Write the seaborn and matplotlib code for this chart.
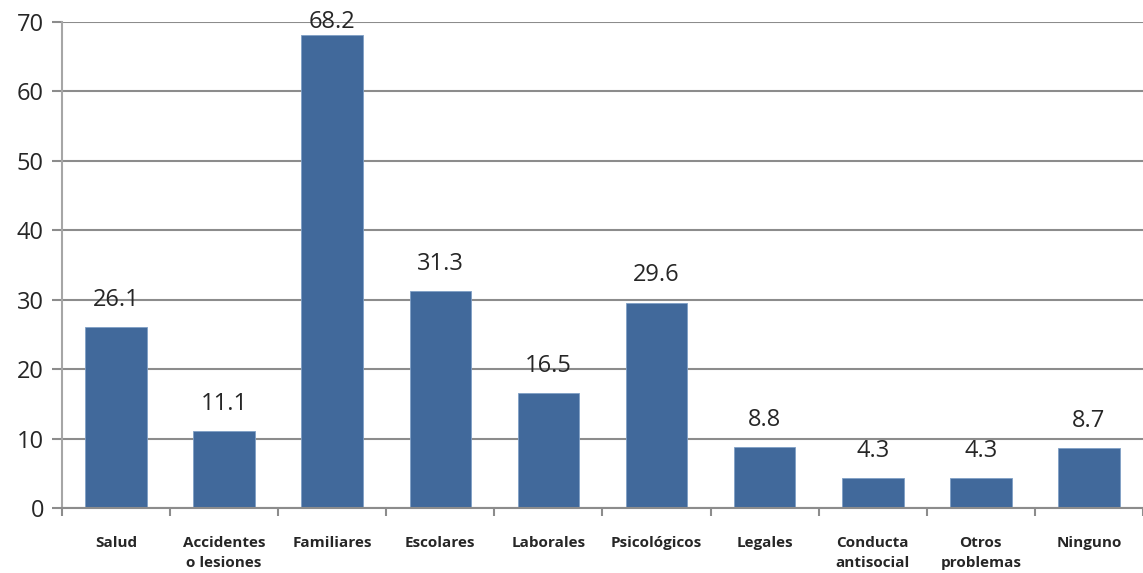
import numpy as np
import matplotlib
matplotlib.use('agg')
import matplotlib.pyplot as plt
import pandas as pd
import seaborn as sns

categories = ["Salud", "Accidentes\no lesiones", "Familiares", "Escolares",
              "Laborales", "Psicológicos", "Legales", "Conducta\nantisocial",
              "Otros\nproblemas", "Ninguno"]
values = [26.1, 11.1, 68.2, 31.3, 16.5, 29.6, 8.8, 4.3, 4.3, 8.7]
value_labels = ["26.1", "11.1", "68.2", "31.3", "16.5", "29.6", "8.8", "4.3", "4.3", "8.7"]
y_ticks = [0, 10, 20, 30, 40, 50, 60, 70]

sns.set_style("white")
plt.rcParams['font.family'] = ['Open Sans', 'DejaVu Sans']

df = pd.DataFrame({"cat": categories, "val": values})

fig = plt.figure(figsize=(11.43, 5.73), dpi=100)
ax = fig.add_axes([0.0542, 0.1134, 0.9458, 0.8482])

sns.barplot(data=df, x="cat", y="val", color="#41699B", saturation=1,
            width=0.57, edgecolor="#7f9fc6", linewidth=0.6, ax=ax)

ax.set_ylim(0, 70)
ax.set_xlim(-0.5, len(categories) - 0.5)
ax.set_yticks(y_ticks)
ax.set_yticklabels([str(t) for t in y_ticks], fontsize=17)
ax.yaxis.grid(True, color="#8c8c8c", linewidth=1.5)
ax.set_axisbelow(True)

ax.set_xticks(np.arange(len(categories)))
ax.set_xticklabels(categories, fontsize=11, fontweight="bold", linespacing=1.6,
                   va="top")
ax.tick_params(axis="x", length=0, pad=20)
ax.set_xticks(np.arange(len(categories) + 1) - 0.5, minor=True)
ax.tick_params(axis="x", which="minor", length=6, color="#8c8c8c", width=1.5,
               direction="out", bottom=True)
ax.tick_params(axis="y", length=7, color="#8c8c8c", width=1.5, pad=6, left=True)

for side in ["top", "right"]:
    ax.spines[side].set_visible(False)
ax.spines["left"].set_color("#a6a6a6")
ax.spines["left"].set_linewidth(1.5)
ax.spines["bottom"].set_color("#8c8c8c")
ax.spines["bottom"].set_linewidth(1.5)

for i, (v, lab) in enumerate(zip(values, value_labels)):
    ax.text(i, min(v + 3.9, 70.0), lab, ha="center", va="center",
            fontsize=17, clip_on=False)

ax.set_xlabel("")
ax.set_ylabel("")

fig.savefig("out.png", dpi=100)
